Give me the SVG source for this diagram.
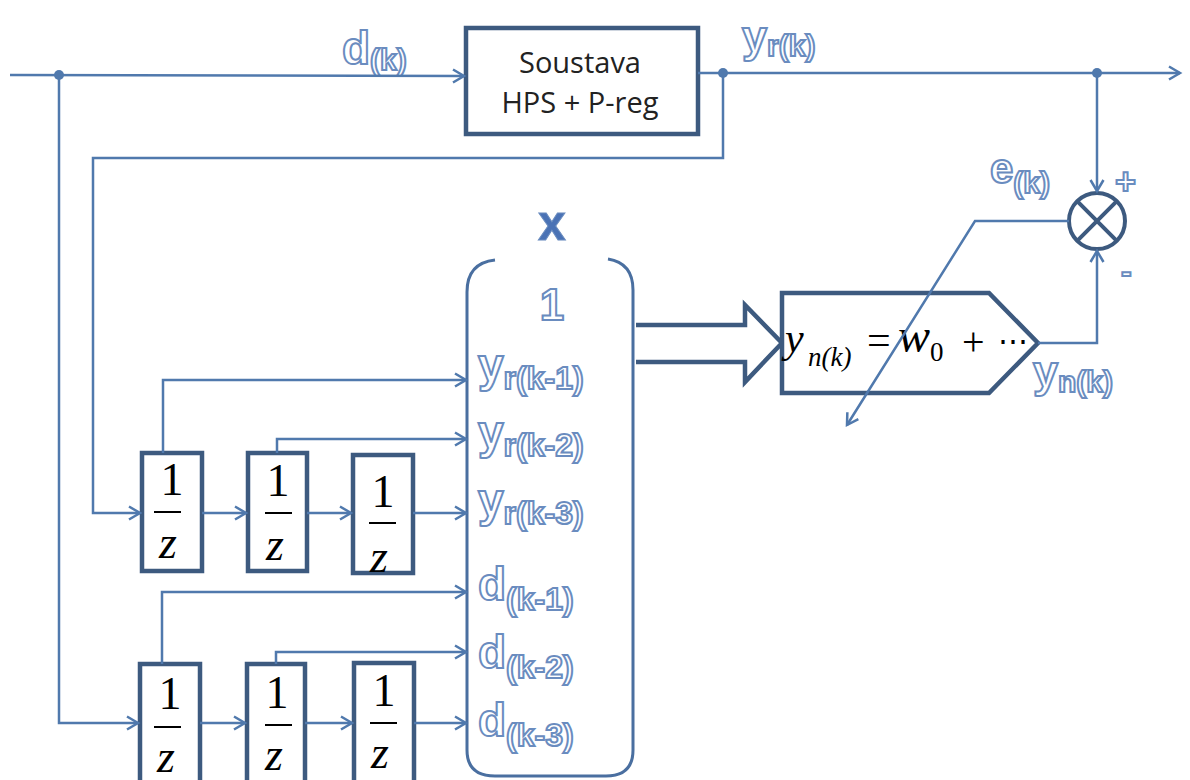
<svg xmlns="http://www.w3.org/2000/svg" width="1190" height="780" viewBox="0 0 1190 780">
<defs>
<marker id="arr" markerUnits="userSpaceOnUse" markerWidth="16" markerHeight="16" refX="13" refY="8" orient="auto">
<path d="M2,1.5 L13,8 L2,14.5" fill="none" stroke="#5079ad" stroke-width="2.5"/>
</marker>
</defs>
<style>
.ln{fill:none;stroke:#5079ad;stroke-width:2.5}
.bx{fill:#fff;stroke:#3d5a7f;stroke-width:4.5}
.ol{fill:#fff;stroke:#6a8cbf;stroke-width:2;font-family:"Liberation Sans",Arial,sans-serif;font-weight:bold}
.tm{font-family:"Liberation Serif","Times New Roman",serif;fill:#000}
.tmi{font-family:"Liberation Serif","Times New Roman",serif;font-style:italic;fill:#000}
.dot{fill:#5079ad}
.bar{stroke:#000;stroke-width:2}
</style>
<rect width="1190" height="780" fill="#fff"/>
<g id="plant">
<rect class="bx" x="466" y="28" width="232" height="106"/>
<text x="580" y="73" text-anchor="middle" font-family="'Open Sans','Liberation Sans',sans-serif" font-size="29" fill="#222">Soustava</text>
<text x="580" y="113" text-anchor="middle" font-family="'Open Sans','Liberation Sans',sans-serif" font-size="29" fill="#222">HPS + P-reg</text>
</g>
<g id="sum">
<circle cx="1097" cy="221" r="28" fill="#fff" stroke="#3d5a7f" stroke-width="4"/>
<path d="M1077.2,201.2 L1116.8,240.8 M1116.8,201.2 L1077.2,240.8" stroke="#3d5a7f" stroke-width="4"/>
</g>
<g id="matrix">
<path d="M495,260 Q467,263 467,292 L467,750 Q467,776 495,776 L606,776 Q633,776 633,750 L633,290 Q633,263 608,259" fill="none" stroke="#4a6fa0" stroke-width="3"/>
<text x="552" y="240" text-anchor="middle" font-family="'Liberation Sans',Arial,sans-serif" font-weight="bold" font-size="50" fill="#4a72b5" stroke="#6a8cbf" stroke-width="1">x</text>
<text class="ol" x="552" y="320" text-anchor="middle" font-size="44">1</text>
<text class="ol" x="478" y="381" font-size="46">y<tspan font-size="32" dy="8">r(k-1)</tspan></text>
<text class="ol" x="478" y="448" font-size="46">y<tspan font-size="32" dy="8">r(k-2)</tspan></text>
<text class="ol" x="478" y="516" font-size="46">y<tspan font-size="32" dy="8">r(k-3)</tspan></text>
<text class="ol" x="478" y="600" font-size="46">d<tspan font-size="32" dy="10">(k-1)</tspan></text>
<text class="ol" x="478" y="668" font-size="46">d<tspan font-size="32" dy="10">(k-2)</tspan></text>
<text class="ol" x="478" y="736" font-size="46">d<tspan font-size="32" dy="10">(k-3)</tspan></text>
</g>
<g id="model">
<polyline points="636,325 745,325 745,305 782,343 745,382 745,362 636,362" fill="#fff" stroke="#3d5a7f" stroke-width="4.5"/>
<polygon class="bx" points="782,293 989,293 1038,343 989,393 782,393"/>
<text class="tmi" x="785" y="352" font-size="42">y</text>
<text class="tmi" x="808" y="366" font-size="27">n(k)</text>
<text class="tm" x="867" y="354" font-size="42">=</text>
<text class="tmi" x="898" y="352" font-size="48">w</text>
<text class="tm" x="930" y="361" font-size="27">0</text>
<text class="tm" x="962" y="355" font-size="40">+</text>
<text class="tm" x="998" y="351" font-size="30">⋯</text>
</g>
<g id="delay-y1">
<rect class="bx" x="142" y="453" width="60" height="118"/>
<text class="tm" x="172" y="495" text-anchor="middle" font-size="46">1</text>
<line class="bar" x1="154" y1="512" x2="181" y2="512"/>
<text class="tmi" x="168" y="558" text-anchor="middle" font-size="46">z</text>
</g>
<g id="delay-y2">
<rect class="bx" x="248" y="453" width="59" height="118"/>
<text class="tm" x="278" y="496" text-anchor="middle" font-size="46">1</text>
<line class="bar" x1="265" y1="513" x2="292" y2="513"/>
<text class="tmi" x="275" y="560" text-anchor="middle" font-size="46">z</text>
</g>
<g id="delay-y3">
<rect class="bx" x="353" y="455" width="60" height="118"/>
<text class="tm" x="383" y="507" text-anchor="middle" font-size="46">1</text>
<line class="bar" x1="369" y1="523" x2="396" y2="523"/>
<text class="tmi" x="379" y="572" text-anchor="middle" font-size="46">z</text>
</g>
<g id="delay-d1">
<rect class="bx" x="140" y="664" width="60" height="124"/>
<text class="tm" x="170" y="709" text-anchor="middle" font-size="46">1</text>
<line class="bar" x1="154" y1="727" x2="181" y2="727"/>
<text class="tmi" x="166" y="772" text-anchor="middle" font-size="46">z</text>
</g>
<g id="delay-d2">
<rect class="bx" x="247" y="664" width="58" height="124"/>
<text class="tm" x="277" y="708" text-anchor="middle" font-size="46">1</text>
<line class="bar" x1="265" y1="725" x2="292" y2="725"/>
<text class="tmi" x="274" y="770" text-anchor="middle" font-size="46">z</text>
</g>
<g id="delay-d3">
<rect class="bx" x="354" y="663" width="60" height="124"/>
<text class="tm" x="384" y="706" text-anchor="middle" font-size="46">1</text>
<line class="bar" x1="370" y1="723" x2="397" y2="723"/>
<text class="tmi" x="380" y="768" text-anchor="middle" font-size="46">z</text>
</g>
<g id="labels">
<text class="ol" x="342" y="64" font-size="46">d<tspan font-size="30" dy="6">(k)</tspan></text>
<text class="ol" x="742" y="52" font-size="45">y<tspan font-size="30" dy="4">r(k)</tspan></text>
<text class="ol" x="990" y="183" font-size="42">e<tspan font-size="30" dy="10">(k)</tspan></text>
<text class="ol" x="1115" y="194" font-size="36">+</text>
<text class="ol" x="1121" y="282" font-size="32">-</text>
<text class="ol" x="1033" y="387" font-size="45">y<tspan font-size="30" dy="5">n(k)</tspan></text>
</g>
<g id="connectors">
<path class="ln" d="M10,75 L464,76" marker-end="url(#arr)"/>
<path class="ln" d="M698,73 L1180,73" marker-end="url(#arr)"/>
<path class="ln" d="M1097,73 L1097,191" marker-end="url(#arr)"/>
<path class="ln" d="M723,73 L723,158 L93,158 L93,513 L140,513" marker-end="url(#arr)"/>
<path class="ln" d="M59,75 L59,723 L138,723" marker-end="url(#arr)"/>
<path class="ln" d="M202,513 L246,513" marker-end="url(#arr)"/>
<path class="ln" d="M307,513 L351,513" marker-end="url(#arr)"/>
<path class="ln" d="M413,513 L466,513" marker-end="url(#arr)"/>
<path class="ln" d="M163,453 L163,380 L466,380" marker-end="url(#arr)"/>
<path class="ln" d="M277,453 L277,439 L466,439" marker-end="url(#arr)"/>
<path class="ln" d="M200,723 L245,723" marker-end="url(#arr)"/>
<path class="ln" d="M305,723 L352,723" marker-end="url(#arr)"/>
<path class="ln" d="M414,723 L466,723" marker-end="url(#arr)"/>
<path class="ln" d="M162,664 L162,592 L466,592" marker-end="url(#arr)"/>
<path class="ln" d="M276,664 L276,652 L466,652" marker-end="url(#arr)"/>
<path class="ln" d="M1038,343 L1097,343 L1097,251" marker-end="url(#arr)"/>
<path class="ln" d="M1069,221 L975,221 L847,425" marker-end="url(#arr)"/>
<circle class="dot" cx="59" cy="75" r="5"/>
<circle class="dot" cx="723" cy="73" r="5"/>
<circle class="dot" cx="1097" cy="73" r="5"/>
</g>
</svg>
